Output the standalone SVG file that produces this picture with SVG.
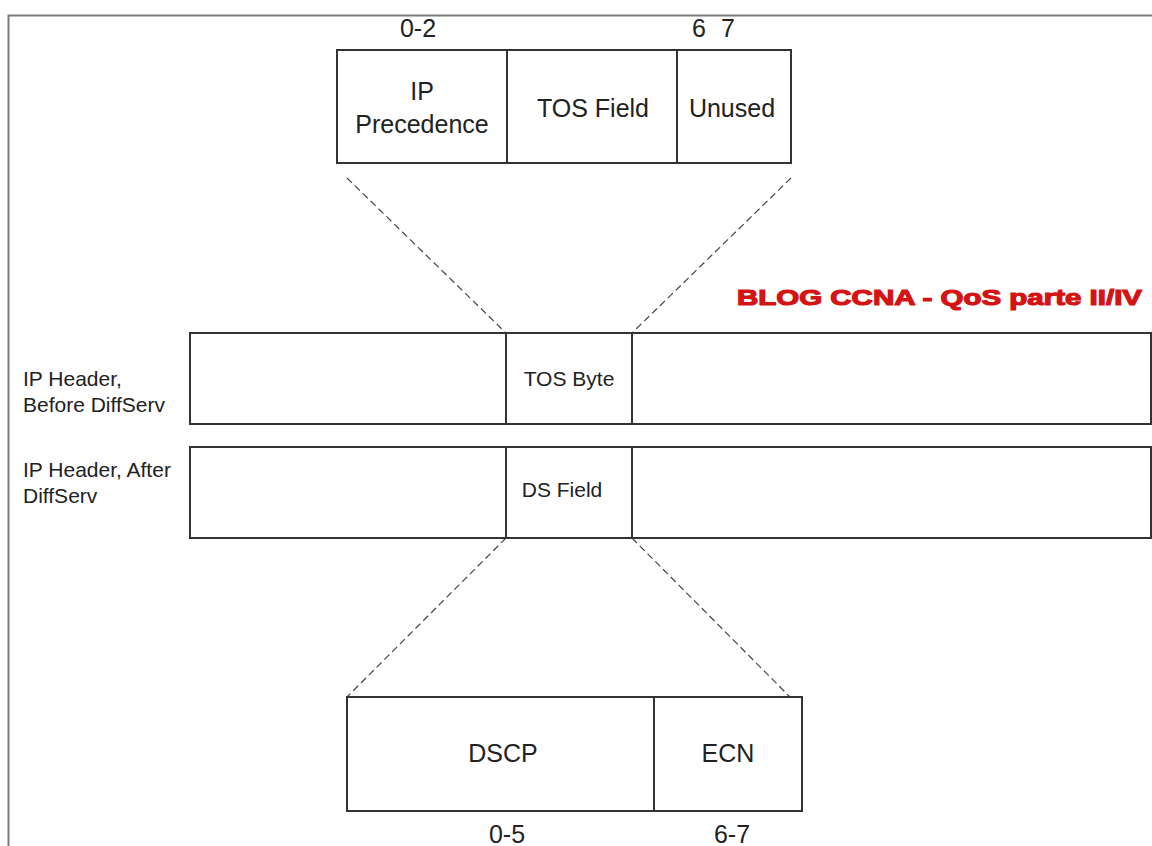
<svg xmlns="http://www.w3.org/2000/svg" width="1152" height="846" viewBox="0 0 1152 846">
<style>
.box{fill:#fff;stroke:#333;stroke-width:2}
.div{stroke:#333;stroke-width:2}
.dash{stroke:#444;stroke-width:1.2;stroke-dasharray:7,4;fill:none}
.t{font-family:"Liberation Sans",Arial,sans-serif;fill:#222}
.big{font-size:25px}
.mid{font-size:21px}
.red{font-family:"Liberation Sans",Arial,sans-serif;font-weight:bold;font-size:22px;fill:#d41414;stroke:#d41414;stroke-width:1.2}
</style>
<rect width="1152" height="846" fill="#fff"/>
<g id="frame">
<path d="M8.5 846 V15.5 H1152" fill="none" stroke="#7a7a7a" stroke-width="2"/>
</g>
<g id="connectors">
<line class="dash" x1="347" y1="178" x2="506" y2="333"/>
<line class="dash" x1="791" y1="178" x2="632" y2="333"/>
<line class="dash" x1="506" y1="538" x2="347" y2="697"/>
<line class="dash" x1="632" y1="538" x2="790" y2="697"/>
</g>
<g id="tos-field">
<rect class="box" x="337" y="50" width="454" height="113"/>
<line class="div" x1="507" y1="50" x2="507" y2="163"/>
<line class="div" x1="677" y1="50" x2="677" y2="163"/>
<text class="t big" x="422" y="100" text-anchor="middle">IP</text>
<text class="t big" x="422" y="133" text-anchor="middle">Precedence</text>
<text class="t big" x="593" y="117" text-anchor="middle">TOS Field</text>
<text class="t big" x="732" y="117" text-anchor="middle">Unused</text>
<text class="t big" x="418" y="37" text-anchor="middle">0-2</text>
<text class="t big" x="699" y="37" text-anchor="middle">6</text>
<text class="t big" x="728" y="37" text-anchor="middle">7</text>
</g>
<g id="before">
<rect class="box" x="190" y="333" width="961" height="91"/>
<line class="div" x1="506" y1="333" x2="506" y2="424"/>
<line class="div" x1="632" y1="333" x2="632" y2="424"/>
<text class="t mid" x="569" y="386" text-anchor="middle">TOS Byte</text>
<text class="t mid" x="23" y="386">IP Header,</text>
<text class="t mid" x="23" y="412">Before DiffServ</text>
</g>
<g id="after">
<rect class="box" x="190" y="447" width="961" height="91"/>
<line class="div" x1="506" y1="447" x2="506" y2="538"/>
<line class="div" x1="632" y1="447" x2="632" y2="538"/>
<text class="t mid" x="562" y="497" text-anchor="middle">DS Field</text>
<text class="t mid" x="23" y="477">IP Header, After</text>
<text class="t mid" x="23" y="503">DiffServ</text>
</g>
<g id="ds-field">
<rect class="box" x="347" y="697" width="455" height="114"/>
<line class="div" x1="654" y1="697" x2="654" y2="811"/>
<text class="t big" x="503" y="762" text-anchor="middle">DSCP</text>
<text class="t big" x="728" y="762" text-anchor="middle">ECN</text>
<text class="t big" x="507" y="843" text-anchor="middle">0-5</text>
<text class="t big" x="732" y="843" text-anchor="middle">6-7</text>
</g>
<g id="title">
<text class="red" x="737" y="305" textLength="405" lengthAdjust="spacingAndGlyphs">BLOG CCNA - QoS parte II/IV</text>
</g>
</svg>
